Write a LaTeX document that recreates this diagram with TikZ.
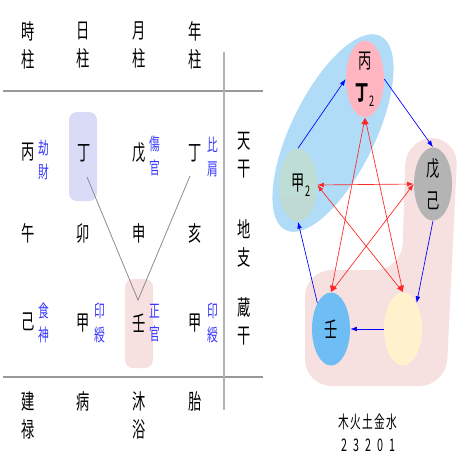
\documentclass[tikz,border=0pt]{standalone}
\usepackage{fontspec}
\setmainfont{Noto Sans CJK JP}[FakeStretch=0.62]
\usetikzlibrary{shapes.geometric,arrows.meta,patterns}

\definecolor{tsblue}{RGB}{55,55,255}
\definecolor{boxlav}{RGB}{218,219,246}
\definecolor{boxpink}{RGB}{246,224,224}
\definecolor{firepink}{RGB}{255,182,193}
\definecolor{earthgray}{RGB}{180,180,180}
\definecolor{woodgreen}{RGB}{190,221,213}
\definecolor{waterblue}{RGB}{110,190,245}
\definecolor{metalcream}{RGB}{255,242,204}
\definecolor{hiblue}{RGB}{176,220,248}

\newcommand\cell[1]{\makebox[9pt]{#1}}

\begin{document}
\begin{tikzpicture}[x=0.75pt, y=-0.75pt,
    gan/.style={font=\fontsize{16}{21}\selectfont, align=center, inner sep=0pt},
    shen/.style={font=\fontsize{13}{17.5}\selectfont, text=tsblue, align=center, inner sep=0pt},
    xing/.style={ellipse, minimum width=28.5pt, minimum height=54.75pt, inner sep=0pt,
      align=center, font=\fontsize{16}{24}\selectfont},
    sheng/.style={draw=blue, line width=0.5pt, -{Latex[length=5pt,width=3.5pt]}},
    ke/.style={draw=red!85, line width=0.5pt, {Latex[length=5pt,width=3.5pt]}-{Latex[length=5pt,width=3.5pt]}}]
  \useasboundingbox (0,0) rectangle (469,469);

  \fill[boxlav, rounded corners=6pt]  (69,112) rectangle (97,201);
  \fill[boxpink, rounded corners=6pt] (125,279) rectangle (153,368);

  \draw[black!40, line width=1pt] (3,91) -- (263,91);
  \draw[black!40, line width=1pt] (3,377) -- (263,377);
  \draw[black!30, line width=0.8pt] (224,52) -- (224,410);

  \node[gan] (zhu1) at (28,45) {時\\柱};
  \node[gan] (zhu2) at (83,45) {日\\柱};
  \node[gan] (zhu3) at (139,45) {月\\柱};
  \node[gan] (zhu4) at (195,45) {年\\柱};

  \node[gan] (tg1) at (28,152) {丙};  \node[shen] (ss1) at (44,160) {劫\\財};
  \node[gan] (tg2) at (84,153) {丁};
  \node[gan] (tg3) at (139,153) {戊}; \node[shen] (ss3) at (155,156) {傷\\官};
  \node[gan] (tg4) at (195,153) {丁}; \node[shen] (ss4) at (213,157) {比\\肩};

  \node[gan] (dz1) at (28,233) {午};
  \node[gan] (dz2) at (83,233) {卯};
  \node[gan] (dz3) at (139,233) {申};
  \node[gan] (dz4) at (195,233) {亥};

  \node[gan] (zg1) at (28,322) {己};  \node[shen] (zs1) at (44,323) {食\\神};
  \node[gan] (zg2) at (83,323) {甲};  \node[shen] (zs2) at (100,323) {印\\綬};
  \node[gan] (zg3) at (139,323) {壬}; \node[shen] (zs3) at (155,323) {正\\官};
  \node[gan] (zg4) at (195,323) {甲}; \node[shen] (zs4) at (213,323) {印\\綬};

  \node[gan] (yun1) at (28,415) {建\\禄};
  \node[gan] (yun2) at (83,401) {病};
  \node[gan] (yun3) at (139,415) {沐\\浴};
  \node[gan] (yun4) at (195,401) {胎};

  \node[gan] (rtg) at (244,155) {天\\干};
  \node[gan] (rdz) at (244,243) {地\\支};
  \node[gan] (rzg) at (244,321) {蔵\\干};

  \coordinate (dayfoot) at (87,177);
  \coordinate (yearfoot) at (190,176);
  \coordinate (apex) at (138,300);
  \draw[black!45, line width=0.6pt] (dayfoot) -- (apex) -- (yearfoot);

  \fill[hiblue, rotate around={64:(333,133)}] (333,133) ellipse [x radius=108, y radius=42];
  \fill[boxpink, rounded corners=20pt] (406,138) -- (458,138) -- (446,386) -- (305,386)
    -- (305,270) -- (402,270) -- cycle;

  \node[xing, fill=firepink] (fire) at (365,79)
    {丙\\{\bfseries 丁}\raisebox{-0.5ex}{\fontsize{11}{11}\selectfont 2}};
  \node[xing, fill=earthgray] (earth) at (433,184) {戊\\己};
  \node[xing, fill=woodgreen] (wood) at (298,185) {};
  \begin{scope}
    \clip (298,185) ellipse [x radius=19, y radius=36.5];
    \fill[pattern=crosshatch dots, pattern color=black!22] (270,196) rectangle (330,230);
  \end{scope}
  \node[gan, font=\fontsize{16}{24}\selectfont] (woodtxt) at (301,185)
    {甲\raisebox{-0.5ex}{\fontsize{11}{11}\selectfont 2}};
  \node[xing, fill=waterblue] (water) at (331,329) {壬};
  \node[xing, fill=metalcream] (metal) at (403,329) {};

  \draw[sheng] (wood.north) -- (fire.west);
  \draw[sheng] (fire.east) -- (earth.north);
  \draw[sheng] (earth.south) -- (metal.north east);
  \draw[sheng] (metal.west) -- (water.east);
  \draw[sheng] (water.north west) -- (wood.south);

  \draw[ke] (wood.east) -- (earth.west);
  \draw[ke] (wood.east) -- (metal.north);
  \draw[ke] (fire.south) -- (water.north);
  \draw[ke] (fire.south) -- (metal.north);
  \draw[ke] (earth.west) -- (water.north);

  \node[font=\fontsize{13}{13}\selectfont, inner sep=0pt] (wuxing) at (368,422)
    {\cell{木}\cell{火}\cell{土}\cell{金}\cell{水}};
  \node[font=\fontsize{13}{13}\selectfont, inner sep=0pt] (count) at (368,445)
    {\cell{2}\cell{3}\cell{2}\cell{0}\cell{1}};
\end{tikzpicture}
\end{document}
